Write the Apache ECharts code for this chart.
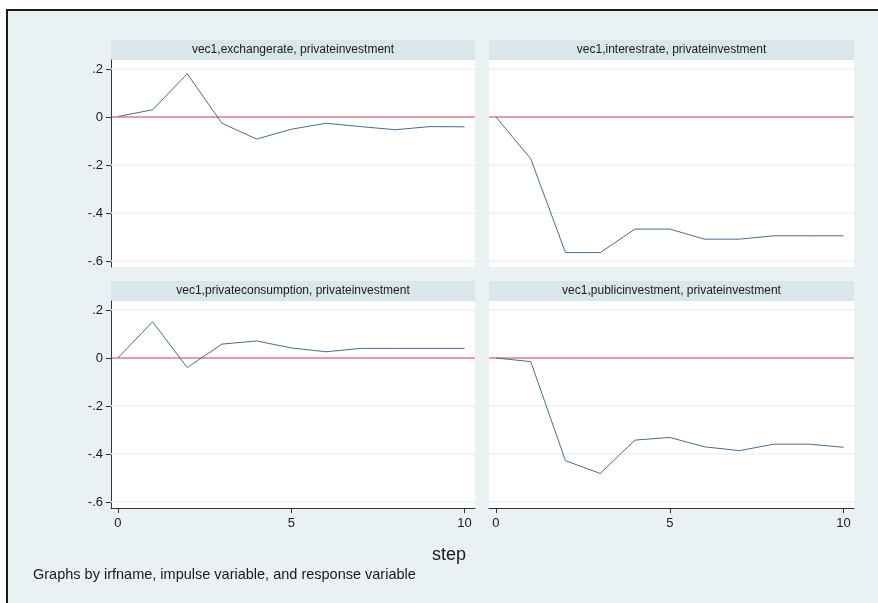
<!DOCTYPE html>
<html>
<head>
<meta charset="utf-8">
<script src="https://cdn.jsdelivr.net/npm/echarts@6/dist/echarts.min.js"></script>
<style>
html,body{margin:0;padding:0;background:#ffffff;}
#chart{width:878px;height:603px;}
</style>
</head>
<body>
<div id="chart"></div>
<script>
// ---- data ----
const steps = [0,1,2,3,4,5,6,7,8,9,10];
const panelTitles = [
  'vec1,exchangerate, privateinvestment',
  'vec1,interestrate, privateinvestment',
  'vec1,privateconsumption, privateinvestment',
  'vec1,publicinvestment, privateinvestment'
];
const exchangerate = [0.002,0.030,0.180,-0.026,-0.092,-0.051,-0.026,-0.040,-0.053,-0.040,-0.041];
const interestrate = [0.000,-0.174,-0.565,-0.565,-0.467,-0.467,-0.509,-0.509,-0.495,-0.495,-0.495];
const privateconsumption = [0.000,0.151,-0.040,0.058,0.071,0.042,0.026,0.040,0.040,0.040,0.040];
const publicinvestment = [0.000,-0.015,-0.428,-0.481,-0.342,-0.331,-0.370,-0.386,-0.359,-0.359,-0.372];
const yTickValues = [0.2,0,-0.2,-0.4,-0.6];
const yTickLabels = ['.2','0','-.2','-.4','-.6'];
const gridValues = [0.2,-0.2,-0.4,-0.6];
const xTickValues = [0,5,10];
const xTickLabels = ['0','5','10'];
const xAxisTitle = 'step';
const noteText = 'Graphs by irfname, impulse variable, and response variable';

const seriesData = [exchangerate, interestrate, privateconsumption, publicinvestment];

// ---- layout ----
const FONT = '"Liberation Sans", Arial, sans-serif';
const panels = [
  {left:111, top:60, width:364, height:207, yAxis:true, xAxis:false},
  {left:489, top:60, width:365, height:207, yAxis:false, xAxis:false},
  {left:111, top:301, width:364, height:207, yAxis:true, xAxis:true},
  {left:489, top:301, width:365, height:207, yAxis:false, xAxis:true}
];
const stripH = 20;
const X_MIN = -0.2, X_MAX = 10.3;

const chart = echarts.init(document.getElementById('chart'), null, {renderer:'canvas'});

const grids = [], xAxes = [], yAxes = [], series = [], graphics = [];

graphics.push({type:'rect', silent:true, z:-10,
  shape:{x:7, y:10, width:920, height:640},
  style:{fill:'#e9f1f3', stroke:'#1a1a1a', lineWidth:2}});

panels.forEach((p, i) => {
  grids.push({left:p.left, top:p.top, width:p.width, height:p.height,
    show:true, backgroundColor:'#ffffff', borderWidth:0, containLabel:false});
  graphics.push({type:'rect', silent:true, z:-5,
    shape:{x:p.left, y:p.top - stripH, width:p.width, height:stripH},
    style:{fill:'#d9e6ec'}});
  graphics.push({type:'text', silent:true, z:10,
    x:p.left + p.width/2, y:p.top - stripH/2,
    style:{text:panelTitles[i], font:'12px ' + FONT, fill:'#1a1a1a',
      align:'center', verticalAlign:'middle'}});
  xAxes.push({type:'value', gridIndex:i, min:X_MIN, max:X_MAX, show:p.xAxis,
    axisLine:{show:p.xAxis, onZero:false, lineStyle:{color:'#333333', width:1}},
    axisTick:{show:p.xAxis, customValues:xTickValues, length:5, lineStyle:{color:'#333333'}},
    axisLabel:{show:p.xAxis, customValues:xTickValues, margin:9,
      formatter:(v)=>xTickLabels[xTickValues.indexOf(v)] ?? '',
      fontFamily:FONT, fontSize:13, color:'#1a1a1a'},
    splitLine:{show:false}});
  yAxes.push({type:'value', gridIndex:i, min:-0.625, max:0.2375, show:p.yAxis,
    axisLine:{show:p.yAxis, onZero:false, lineStyle:{color:'#333333', width:1}},
    axisTick:{show:p.yAxis, customValues:yTickValues, length:5, lineStyle:{color:'#333333'}},
    axisLabel:{show:p.yAxis, customValues:yTickValues, margin:8,
      formatter:(v)=>{const k = yTickValues.findIndex(t=>Math.abs(t-v)<1e-9); return k>=0 ? yTickLabels[k] : '';},
      fontFamily:FONT, fontSize:13, color:'#1a1a1a'},
    splitLine:{show:false}});
  // reference line at zero
  series.push({type:'line', xAxisIndex:i, yAxisIndex:i, z:4,
    data:[[X_MIN,0],[X_MAX,0]], showSymbol:false, symbol:'none', silent:true,
    lineStyle:{color:'#d1345a', width:1},
    markLine:{silent:true, symbol:'none', animation:false, label:{show:false},
      data: gridValues.map(v => ({yAxis:v, lineStyle:{color:'#eef1f2', width:1.5, type:'solid'}}))}
  });
  series.push({type:'line', xAxisIndex:i, yAxisIndex:i,
    data: steps.map((s, k) => [s, seriesData[i][k]]),
    showSymbol:false, symbol:'none',
    lineStyle:{color:'#4b6b8c', width:1}, z:5});
});

graphics.push({type:'text', silent:true,
  x:466, y:555,
  style:{text:xAxisTitle, font:'18px ' + FONT, fill:'#1a1a1a', align:'right', verticalAlign:'middle'}});
graphics.push({type:'text', silent:true,
  x:33, y:575,
  style:{text:noteText, font:'14.5px ' + FONT, fill:'#1a1a1a', align:'left', verticalAlign:'middle'}});

chart.setOption({
  backgroundColor:'#ffffff',
  animation:false,
  grid:grids, xAxis:xAxes, yAxis:yAxes, series:series,
  graphic:graphics
});
</script>
</body>
</html>
